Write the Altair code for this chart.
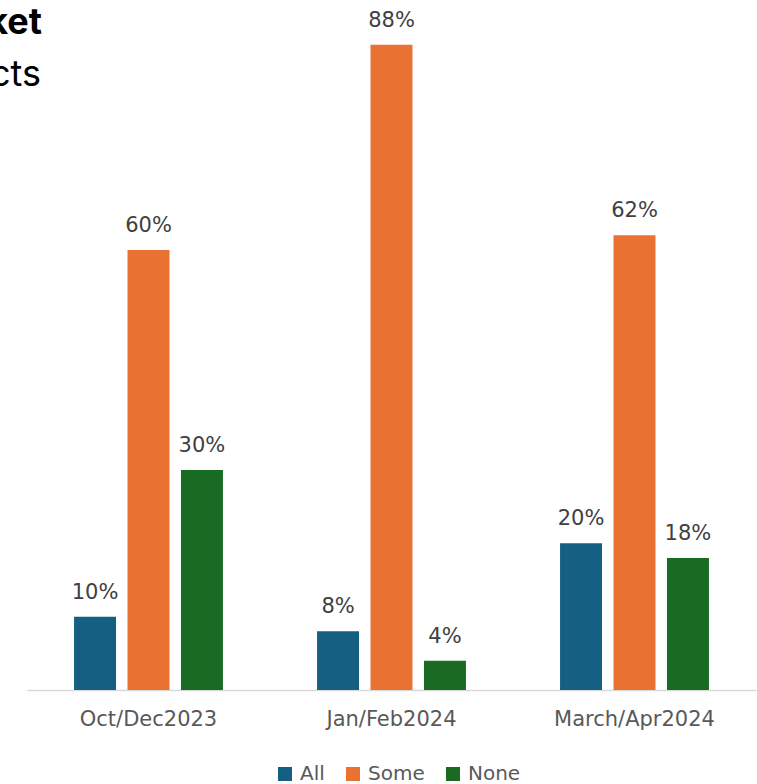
import altair as alt
import pandas as pd

periods = ["Oct/Dec2023", "Jan/Feb2024", "March/Apr2024"]
series = ["All", "Some", "None"]
all_vals = [0.10, 0.08, 0.20]
some_vals = [0.60, 0.88, 0.62]
none_vals = [0.30, 0.04, 0.18]
colors = ["#156082", "#E97132", "#196B24"]
title_tail = ["ket", "cts"]

rows = []
for i, p in enumerate(periods):
    for s, vals in zip(series, [all_vals, some_vals, none_vals]):
        rows.append({"period": p, "series": s, "value": vals[i]})
df = pd.DataFrame(rows)

FONT = "DejaVu Sans"
TFONT = "Inter"

base = alt.Chart(df).encode(
    x=alt.X("period:N", sort=periods, title=None,
            scale=alt.Scale(paddingInner=0, paddingOuter=0),
            axis=alt.Axis(labelAngle=0, ticks=False, domainColor="#D9D9D9", domainWidth=1.5,
                          labelFont=FONT, labelFontSize=21, labelColor="#595959",
                          labelPadding=18, grid=False)),
    xOffset=alt.XOffset("series:N", sort=series,
                        scale=alt.Scale(paddingInner=0.215, paddingOuter=0.88)),
    y=alt.Y("value:Q", scale=alt.Scale(domain=[0, 0.9]), axis=None),
)

bars = base.mark_bar().encode(
    color=alt.Color("series:N", sort=series,
                    scale=alt.Scale(domain=series, range=colors),
                    legend=alt.Legend(title=None, orient="none", direction="horizontal",
                                      legendX=248, legendY=734,
                                      symbolType="square", symbolSize=196,
                                      symbolStrokeWidth=0, symbolOpacity=1,
                                      labelFont=FONT, labelFontSize=20, labelColor="#595959",
                                      columnPadding=18, labelOffset=5))
)

labels = base.mark_text(baseline="alphabetic", dy=-18, font=FONT, fontSize=21, color="#404040").encode(
    text=alt.Text("value:Q", format=".0%")
)

title1 = alt.Chart(pd.DataFrame({"t": [title_tail[0]]})).mark_text(
    align="right", baseline="middle", font=TFONT, fontSize=36, fontWeight="bold", color="#000000"
).encode(x=alt.value(15), y=alt.value(-7), text="t:N")
title2 = alt.Chart(pd.DataFrame({"t": [title_tail[1]]})).mark_text(
    align="right", baseline="middle", font=TFONT, fontSize=36, color="#000000"
).encode(x=alt.value(14), y=alt.value(45), text="t:N")

chart = alt.layer(bars, labels, title1, title2).properties(
    width=729, height=660,
    autosize=alt.AutoSizeParams(type="none"),
    padding={"left": 27, "top": 30, "right": 1, "bottom": 94},
).configure_view(stroke=None)

chart.save("out.html", embed_options={"renderer": "svg", "actions": False})
